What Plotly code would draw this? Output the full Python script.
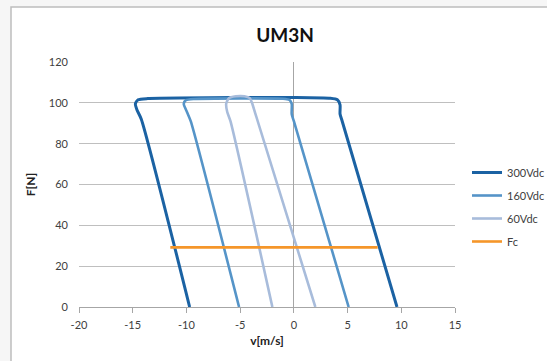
import plotly.graph_objects as go

# ---- data (v [m/s], F [N]) ----
v_300 = [-9.7, -14.2, -14.6, -14.75, -14.5, -13.6, -5.0, 0.0, 3.4, 4.05, 4.3, 4.3, 4.5, 9.6]
f_300 = [0, 92, 96.5, 99.5, 101.5, 102.1, 102.6, 102.6, 102.2, 101.5, 99, 94.5, 91, 0]

v_160 = [-5.1, -9.6, -9.95, -10.25, -10.05, -9.3, -5.0, -1.0, -0.4, -0.2, -0.2, 0.0, 5.1]
f_160 = [0, 91, 95.5, 99.5, 101.3, 101.9, 102.2, 102.0, 101.4, 99.5, 94.5, 91, 0]

v_60 = [-2.0, -5.9, -6.2, -6.3, -6.05, -5.4, -4.6, -4.1, -3.9, -3.6, 2.0]
f_60 = [0, 91, 95.5, 99.5, 102.3, 103.2, 103.2, 102.3, 100, 95, 0]

v_fc = [-11.5, 7.8]
f_fc = [29.2, 29.2]

series = [
    ("300Vdc", v_300, f_300, "#1B62A3", 3),
    ("160Vdc", v_160, f_160, "#5594C8", 2.6),
    ("60Vdc", v_60, f_60, "#A8BCDB", 2.6),
    ("Fc", v_fc, f_fc, "#F5962A", 2.6),
]

x_ticks = [-20, -15, -10, -5, 0, 5, 10, 15]
y_ticks = [0, 20, 40, 60, 80, 100, 120]

FONT = "Lato"

fig = go.Figure()
for i, (name, xs, ys, col, w) in enumerate(series):
    fig.add_trace(go.Scatter(
        x=xs, y=ys, name=name, mode="lines",
        line=dict(color=col, width=w, shape="spline", smoothing=0.6),
        legendgroup=f"g{i}",
    ))

L, R, T, B = 79, 92, 62, 54
PW = 547 - L - R
PH = 361 - T - B

def px_to_paper_x(px):
    return (px - L) / PW

def px_to_paper_y(py):
    return (361 - B - py) / PH

fig.update_layout(
    width=547, height=361,
    margin=dict(l=L, r=R, t=T, b=B, autoexpand=False),
    paper_bgcolor="#F6F6F6",
    plot_bgcolor="white",
    font=dict(family=FONT, size=11, color="#404040"),
    title=dict(text="<b>UM3N</b>", font=dict(family=FONT, size=19, color="#111111"),
               x=px_to_paper_x(285), xref="paper", xanchor="center",
               y=1 - 35 / 361, yref="container", yanchor="middle"),
    showlegend=True,
    legend=dict(x=px_to_paper_x(467), y=px_to_paper_y(158), xanchor="left", yanchor="top",
                font=dict(family=FONT, size=11, color="#404040"),
                bgcolor="rgba(0,0,0,0)", tracegroupgap=4, itemwidth=30),
    shapes=[dict(type="rect", xref="paper", yref="paper",
                 x0=px_to_paper_x(11), x1=px_to_paper_x(600),
                 y0=px_to_paper_y(400), y1=px_to_paper_y(7),
                 fillcolor="white", line=dict(color="#BDBDBD", width=1.5), layer="below")],
)

fig.update_xaxes(
    range=[-20, 15], tickvals=x_ticks, ticktext=[str(t) for t in x_ticks],
    showgrid=False, zeroline=True, zerolinecolor="#A6A6A6", zerolinewidth=1,
    showline=True, linecolor="#A6A6A6", linewidth=1,
    ticks="outside", ticklen=5, tickcolor="#A6A6A6", ticklabelstandoff=3,
    title=dict(text="<b>v[m/s]</b>", font=dict(family=FONT, size=12, color="#222222"), standoff=6),
)
fig.update_yaxes(
    range=[0, 120], tickvals=y_ticks, ticktext=[str(t) for t in y_ticks],
    showgrid=True, gridcolor="#BFBFBF", gridwidth=1, zeroline=False,
    showline=False, ticks="", ticklabelstandoff=10,
    title=dict(text="<b>F[N]</b>", font=dict(family=FONT, size=12, color="#222222"), standoff=10),
)

fig.write_html("out.html", config={"displayModeBar": False},
               post_script="document.body.style.margin='0px';")
